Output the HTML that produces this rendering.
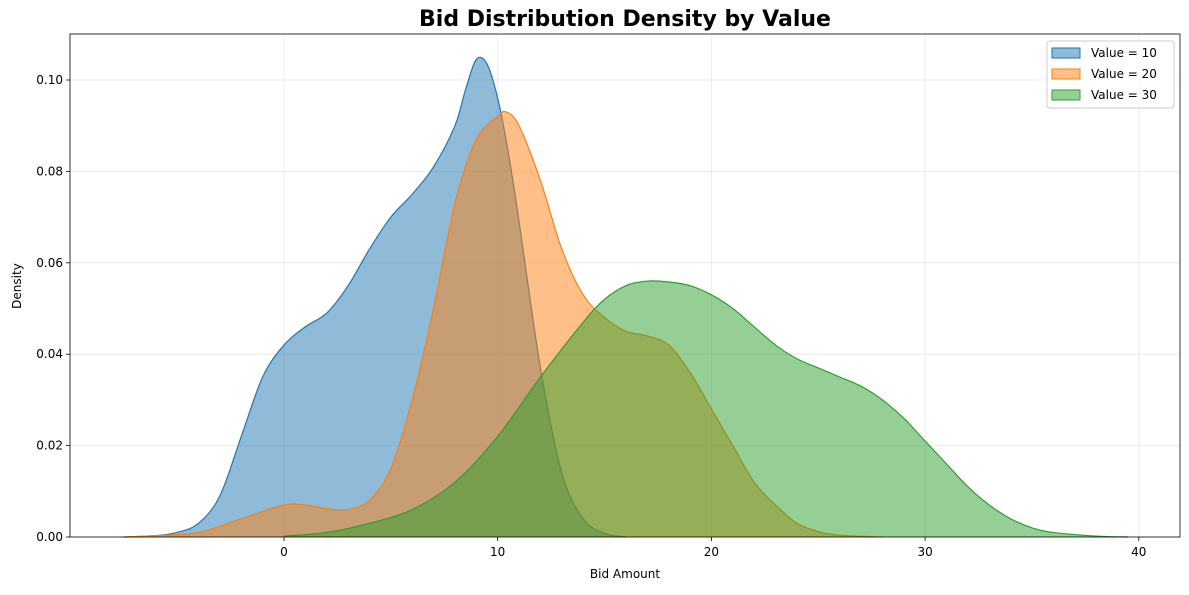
<!DOCTYPE html>
<html><head><meta charset="utf-8"><style>
body{margin:0;background:#fff;font-family:"Liberation Sans","DejaVu Sans",sans-serif;}
svg text{font-family:"DejaVu Sans","Liberation Sans",sans-serif;}
</style></head><body>
<svg id="c" width="1189" height="590" xmlns="http://www.w3.org/2000/svg"></svg>
<script>
const xTicks=[0,10,20,30,40];
const yTicks=[0,0.02,0.04,0.06,0.08,0.10];
const seriesNames=["Value = 10","Value = 20","Value = 30"];
const seriesColors=["#1f77b4","#ff7f0e","#2ca02c"];
const xs10=[-7.5,-6,-5,-4,-3,-2,-1,0,1,2,3,4,5,6,7,8,8.5,9,9.5,10,10.5,11,12,13,14,15,16];
const ys10=[0,0.0003,0.001,0.003,0.009,0.022,0.035,0.042,0.046,0.049,0.055,0.063,0.070,0.075,0.081,0.090,0.098,0.1045,0.1035,0.096,0.084,0.069,0.037,0.014,0.004,0.0008,0];
const xs20=[-7.5,-6,-4,-2,0,1,2,3,4,5,6,7,8,9,10,10.4,11,12,13,14,15,16,17,18,19,20,21,22,23,24,25,26,28];
const ys20=[0,0.0003,0.001,0.004,0.007,0.007,0.0062,0.006,0.008,0.015,0.030,0.050,0.073,0.087,0.092,0.093,0.090,0.078,0.063,0.053,0.048,0.045,0.044,0.042,0.036,0.028,0.020,0.012,0.007,0.003,0.0012,0.0004,0];
const xs30=[0,2,4,6,8,10,12,14,15,16,17,18,19,20,21,22,23,24,25,26,27,28,29,30,31,32,33,34,35,36,38,39.5];
const ys30=[0.0002,0.001,0.003,0.006,0.012,0.022,0.035,0.047,0.052,0.055,0.056,0.0558,0.055,0.053,0.050,0.046,0.042,0.039,0.037,0.035,0.033,0.030,0.026,0.021,0.016,0.011,0.007,0.004,0.002,0.001,0.0002,0];
const X0=70,X1=1180,Y0=34,Y1=537;
const sx=v=>284+v*21.37, sy=v=>537-v*4570;
const svg=document.getElementById('c');const NS="http://www.w3.org/2000/svg";
function mk(t,a,p){const e=document.createElementNS(NS,t);for(const k in a)e.setAttribute(k,a[k]);(p||svg).appendChild(e);return e;}
mk('rect',{x:0,y:0,width:1189,height:590,fill:'#fff'});
const grid=mk('g',{});
xTicks.forEach(t=>{mk('line',{x1:sx(t),x2:sx(t),y1:Y0,y2:Y1,stroke:'#b0b0b0','stroke-opacity':0.3,'stroke-width':0.8},grid);});
yTicks.forEach(t=>{mk('line',{x1:X0,x2:X1,y1:sy(t),y2:sy(t),stroke:'#b0b0b0','stroke-opacity':0.3,'stroke-width':0.8},grid);});
function path(xs,ys){const p=xs.map((x,i)=>[sx(x),sy(ys[i])]);let d=`M${p[0][0]},${p[0][1]}`;
for(let i=0;i<p.length-1;i++){const a=p[Math.max(0,i-1)],b=p[i],c=p[i+1],e=p[Math.min(p.length-1,i+2)];
let c1y=b[1]+(c[1]-a[1])/6,c2y=c[1]-(e[1]-b[1])/6;c1y=Math.min(c1y,Y1);c2y=Math.min(c2y,Y1);
d+=` C${b[0]+(c[0]-a[0])/6},${c1y} ${c[0]-(e[0]-b[0])/6},${c2y} ${c[0]},${c[1]}`;}return [d,p];}
[[xs10,ys10],[xs20,ys20],[xs30,ys30]].forEach((s,i)=>{const [d,p]=path(s[0],s[1]);
const g=mk('g',{});
mk('path',{d:d+` L${p[p.length-1][0]},${Y1} L${p[0][0]},${Y1} Z`,fill:seriesColors[i],'fill-opacity':0.5},g);
mk('path',{d:d,fill:'none',stroke:seriesColors[i],'stroke-width':1.2},g);});
mk('rect',{x:X0,y:Y0,width:X1-X0,height:Y1-Y0,fill:'none',stroke:'#000','stroke-width':0.8});
xTicks.forEach(t=>{mk('line',{x1:sx(t),x2:sx(t),y1:Y1,y2:Y1+4,stroke:'#000','stroke-width':0.8});
const l=mk('text',{x:sx(t),y:556,'font-size':12,'text-anchor':'middle'});l.textContent=t;
});
yTicks.forEach(t=>{mk('line',{x1:X0-4,x2:X0,y1:sy(t),y2:sy(t),stroke:'#000','stroke-width':0.8});
const l=mk('text',{x:63,y:sy(t)+4,'font-size':12,'text-anchor':'end'});l.textContent=t.toFixed(2);
});
let t=mk('text',{x:625,y:26,'font-size':22,'font-weight':'bold','text-anchor':'middle'});t.textContent='Bid Distribution Density by Value';

t=mk('text',{x:625,y:578,'font-size':12,'text-anchor':'middle'});t.textContent='Bid Amount';

t=mk('text',{x:21,y:286,'font-size':12,'text-anchor':'middle',transform:'rotate(-90 21 286)'});t.textContent='Density';

const lg=mk('g',{});
mk('rect',{x:1047,y:41,width:127,height:67,rx:3,fill:'#fff','fill-opacity':0.8,stroke:'#ccc'},lg);
seriesNames.forEach((n,i)=>{const y=48+i*21;
const e=mk('g',{},lg);
mk('rect',{x:1052,y:y,width:28,height:10,fill:seriesColors[i],'fill-opacity':0.5,stroke:seriesColors[i]},e);
const tx=mk('text',{x:1091,y:y+9,'font-size':12},e);tx.textContent=n;});
</script>
</body></html>
